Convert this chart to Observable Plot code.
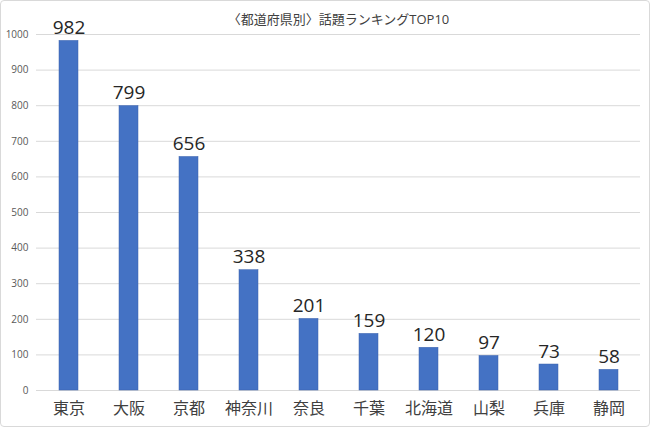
<!DOCTYPE html>
<html><head><meta charset="utf-8">
<script src="https://cdn.jsdelivr.net/npm/d3@7"></script>
<script src="https://cdn.jsdelivr.net/npm/@observablehq/plot@0.6"></script>
<style>
body{margin:0;background:#fff;}
#chart svg{display:block;outline:1px solid #d9d9d9;outline-offset:-1px;border-radius:4px;}
</style>
</head><body>
<div id="chart"></div>
<script>
const title = "〈都道府県別〉話題ランキングTOP10";
const prefectures = ["東京","大阪","京都","神奈川","奈良","千葉","北海道","山梨","兵庫","静岡"];
const counts = [982,799,656,338,201,159,120,97,73,58];
const yTicks = [0,100,200,300,400,500,600,700,800,900,1000];

const data = prefectures.map((p,i)=>({pref:p, count:counts[i]}));
const font = "'Open Sans','Noto Sans CJK JP',sans-serif";

const chart = Plot.plot({
  width: 650, height: 427,
  marginTop: 34, marginBottom: 37, marginLeft: 36, marginRight: 10,
  style: {fontFamily: font, background: "#fff"},
  x: {domain: prefectures, paddingInner: 0.685, paddingOuter: 0.3425, label: null},
  y: {domain: [0,1000], label: null},
  marks: [
    Plot.gridY(yTicks, {stroke: "#d9d9d9", strokeOpacity: 1}),
    Plot.barY(data, {x: "pref", y: "count", fill: "#4472c4", stroke: "#3a62ad", strokeWidth: 0.5}),
    Plot.text(data, {x: "pref", y: "count", text: d => String(d.count), lineAnchor: "bottom", dy: -7, fontSize: 19, fill: "#262626"}),
    Plot.axisY({ticks: yTicks, tickFormat: d => String(d), tickSize: 0, tickPadding: 8, fontSize: 10, color: "#595959", label: null}),
    Plot.axisX({tickSize: 0, tickPadding: 12, fontSize: 16, color: "#404040", label: null}),
    Plot.text([title], {frameAnchor: "top", dy: -20, fontSize: 13, fill: "#404040"})
  ]
});
document.getElementById("chart").appendChild(chart);
</script>
</body></html>
